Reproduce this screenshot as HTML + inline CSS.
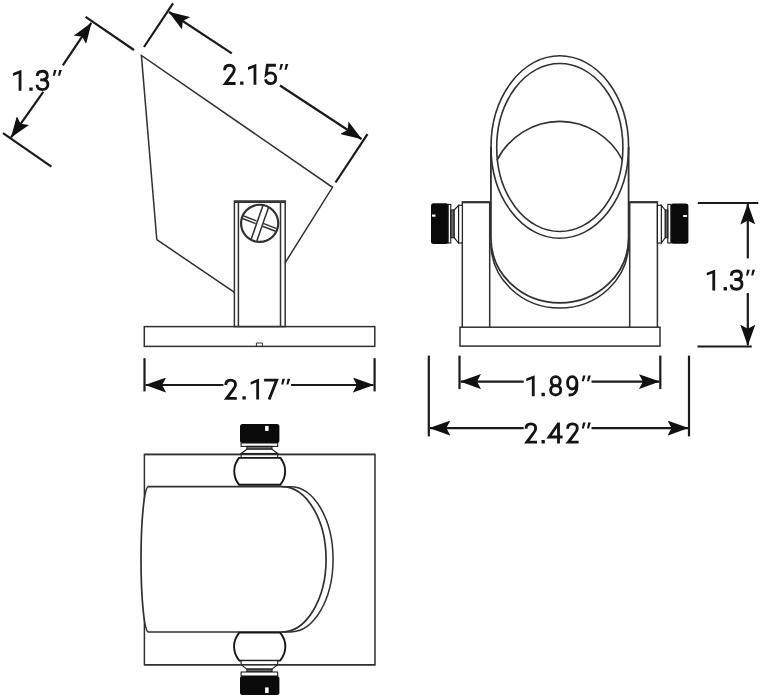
<!DOCTYPE html>
<html><head><meta charset="utf-8">
<style>
html,body{margin:0;padding:0;background:#fff;}
body{width:761px;height:700px;overflow:hidden;}
svg{display:block;will-change:transform;}
</style></head>
<body>
<svg width="761" height="700" viewBox="0 0 761 700">
<defs>
<marker id="ah" viewBox="0 0 21 15" refX="20.5" refY="7.5" markerWidth="21" markerHeight="15" markerUnits="userSpaceOnUse" orient="auto">
<path d="M0,0 L21,7.5 L0,15 L4,7.5 Z" fill="#111"/>
</marker>
</defs>
<rect width="761" height="700" fill="#fff"/>

<!-- ============ SIDE VIEW ============ -->
<g fill="none" stroke="#303030" stroke-width="1.5">
  <polyline points="156.8,239.7 141.4,55.4 332.5,187.3 285.1,262.8"/>
  <line x1="156.8" y1="239.7" x2="234.5" y2="292.3"/>
  <rect x="234.4" y="201" width="50.8" height="125.6"/>
  <line x1="238.4" y1="202" x2="238.4" y2="326.6"/>
  <line x1="280.5" y1="202" x2="280.5" y2="326.6"/>
  <line x1="234.4" y1="202.2" x2="285.2" y2="202.2" stroke-width="1.8"/>
  <circle cx="259.65" cy="223.35" r="18.6" stroke-width="2.2"/>
  <line x1="263.2" y1="204.8" x2="251.1" y2="239.4" stroke-width="1.5"/>
  <line x1="268.6" y1="207.3" x2="256.8" y2="240.9" stroke-width="1.5"/>
  <line x1="242.5" y1="215.5" x2="256.4" y2="220.9" stroke-width="1.5"/>
  <line x1="241.8" y1="218.3" x2="255.7" y2="223.6" stroke-width="1.5"/>
  <line x1="263.2" y1="223.4" x2="276.6" y2="228.6" stroke-width="1.5"/>
  <line x1="262.5" y1="226.2" x2="275.6" y2="231.2" stroke-width="1.5"/>
  <rect x="144.3" y="326.6" width="230.5" height="19.8"/>
  <path d="M256.4,346.4 V343 H262.4 V346.4" stroke-width="1"/>
</g>
<g stroke="#1a1a1a" stroke-width="2.2" fill="none">
  <line x1="85.6" y1="16.9" x2="134" y2="50"/>
  <line x1="3" y1="133.1" x2="51.4" y2="166.6"/>
  <line x1="62.8" y1="65.4" x2="91.3" y2="22.8" marker-end="url(#ah)"/>
  <line x1="43.3" y1="91.8" x2="11.1" y2="137.3" marker-end="url(#ah)"/>

  <line x1="173" y1="3.3" x2="144" y2="47"/>
  <line x1="367.5" y1="134.1" x2="335.5" y2="182.5"/>
  <line x1="231.8" y1="53.4" x2="169" y2="12" marker-end="url(#ah)"/>
  <line x1="280" y1="85.5" x2="361.5" y2="139" marker-end="url(#ah)"/>

  <line x1="144.5" y1="358.2" x2="144.5" y2="391.4"/>
  <line x1="374.6" y1="358.2" x2="374.6" y2="391.4"/>
  <line x1="223.4" y1="385" x2="145.6" y2="385" marker-end="url(#ah)"/>
  <line x1="291" y1="385" x2="373.4" y2="385" marker-end="url(#ah)"/>
</g>

<!-- ============ FRONT VIEW ============ -->
<g fill="none" stroke="#303030" stroke-width="1.5">
  <polyline points="462.3,326.9 462.3,202.1 489.7,202.1 489.7,326.9"/>
  <polyline points="629.7,326.9 629.7,202.1 657.4,202.1 657.4,326.9"/>
  <line x1="462.3" y1="202.3" x2="489.7" y2="202.3" stroke-width="2"/>
  <line x1="629.7" y1="202.3" x2="657.4" y2="202.3" stroke-width="2"/>
  <rect x="460" y="327.2" width="200" height="18.9"/>
  <path d="M490.9,147 L490.9,238 A68.85,65 0 0 0 628.6,238 L628.6,147" stroke-width="1.8"/>
  <path d="M490.9,243 A68.85,65 0 0 0 628.6,243"/>
  <ellipse cx="559.8" cy="147" rx="68.8" ry="91.3" stroke-width="1.6"/>
  <ellipse cx="559.8" cy="147.5" rx="63.1" ry="84" stroke-width="1.6"/>
  <path d="M496.9,160.3 A71.2,73.2 0 0 1 622.7,160.3" stroke-width="1.6"/>
</g>
<g>
  <rect x="431" y="203.3" width="17.4" height="40.6" rx="2.5" fill="#0a0a0a"/>
  <rect x="448.2" y="204.4" width="2.6" height="38.6" fill="#fff" stroke="#1a1a1a" stroke-width="1.1"/>
  <rect x="450.8" y="210" width="3.4" height="27.7" fill="#6a6a6a" stroke="#1a1a1a" stroke-width="1.1"/>
  <path d="M454.2,210 L458.6,205.3 L458.6,243 L454.2,237.7 Z" fill="#fff" stroke="#1a1a1a" stroke-width="1.1"/>
  <rect x="458.6" y="205.3" width="3.7" height="37.7" fill="#fff" stroke="#1a1a1a" stroke-width="1.1"/>
  <rect x="432" y="214.5" width="3.5" height="2.2" fill="#fff"/>

  <rect x="670.8" y="203.4" width="17.6" height="40.4" rx="2.5" fill="#0a0a0a"/>
  <rect x="667.8" y="204.4" width="3" height="38.6" fill="#fff" stroke="#1a1a1a" stroke-width="1.1"/>
  <rect x="665.1" y="210" width="2.7" height="27.7" fill="#6a6a6a" stroke="#1a1a1a" stroke-width="1.1"/>
  <path d="M665.1,210 L661.3,205.3 L661.3,243 L665.1,237.7 Z" fill="#fff" stroke="#1a1a1a" stroke-width="1.1"/>
  <rect x="657.4" y="205.3" width="3.9" height="37.7" fill="#fff" stroke="#1a1a1a" stroke-width="1.1"/>
  <rect x="682.8" y="214.9" width="4.4" height="2.1" rx="1" fill="#fff"/>
</g>
<g stroke="#1a1a1a" stroke-width="2.2" fill="none">
  <line x1="697.8" y1="203" x2="758.3" y2="203"/>
  <line x1="697.5" y1="346.5" x2="751.8" y2="346.5"/>
  <line x1="747.8" y1="258.4" x2="747.8" y2="204" marker-end="url(#ah)"/>
  <line x1="747.8" y1="293" x2="747.8" y2="345.2" marker-end="url(#ah)"/>

  <line x1="459.5" y1="355.6" x2="459.5" y2="389.1"/>
  <line x1="660.3" y1="355.6" x2="660.3" y2="389.1"/>
  <line x1="523.7" y1="381.6" x2="460.5" y2="381.6" marker-end="url(#ah)"/>
  <line x1="591.5" y1="381.6" x2="659.4" y2="381.6" marker-end="url(#ah)"/>

  <line x1="428.8" y1="355.6" x2="428.8" y2="436.4"/>
  <line x1="689" y1="355.6" x2="689" y2="436.4"/>
  <line x1="523.7" y1="428.1" x2="429.8" y2="428.1" marker-end="url(#ah)"/>
  <line x1="591.5" y1="428.1" x2="688.1" y2="428.1" marker-end="url(#ah)"/>
</g>

<!-- ============ TOP VIEW ============ -->
<g fill="none" stroke="#303030" stroke-width="1.5">
  <rect x="144.4" y="454.4" width="230.6" height="210.4"/>
  <path d="M148.5,486.7 L281.8,486.7 A44.3,72.65 0 0 1 281.8,632 L148.5,632 A7.5,72.65 0 0 1 148.5,486.7 Z" fill="#fff" stroke-width="1.7"/>
  <path d="M281.8,486.7 L290.5,486.7 A42.6,72.65 0 0 1 290.5,632 L281.8,632"/>
</g>
<g>
  <rect x="240" y="424.1" width="39.4" height="18.9" rx="2.5" fill="#0a0a0a"/>
  <rect x="265.1" y="425.9" width="3.5" height="5" fill="#fff"/>
  <rect x="241.1" y="443" width="36.6" height="3.4" fill="#fff" stroke="#1a1a1a" stroke-width="1.1"/>
  <rect x="246.9" y="446.4" width="25.1" height="2.9" fill="#6a6a6a" stroke="#1a1a1a" stroke-width="1.1"/>
  <path d="M246.9,449.3 L241.1,453.5 L277.7,453.5 L272,449.3 Z" fill="#fff" stroke="#1a1a1a" stroke-width="1.1"/>
  <rect x="241.1" y="453.5" width="36.6" height="4.4" fill="#fff" stroke="#1a1a1a" stroke-width="1.1"/>
  <path d="M239,457.9 L280.4,457.9 A25.4,23 0 0 1 280.4,484.7 L239,484.7 A25.4,23 0 0 1 239,457.9 Z" fill="#fff" stroke="#151515" stroke-width="1.9"/>

  <path d="M239.3,632.6 L280.1,632.6 A25.4,23 0 0 1 280.1,660.6 L239.3,660.6 A25.4,23 0 0 1 239.3,632.6 Z" fill="#fff" stroke="#151515" stroke-width="1.9"/>
  <rect x="241.1" y="660.6" width="36.6" height="4" fill="#fff" stroke="#1a1a1a" stroke-width="1.1"/>
  <path d="M241.1,664.6 L246.9,669.1 L272,669.1 L277.7,664.6 Z" fill="#fff" stroke="#1a1a1a" stroke-width="1.1"/>
  <rect x="246.9" y="669.1" width="25.1" height="2.9" fill="#6a6a6a" stroke="#1a1a1a" stroke-width="1.1"/>
  <rect x="241.1" y="672" width="36.6" height="4" fill="#fff" stroke="#1a1a1a" stroke-width="1.1"/>
  <rect x="240" y="676" width="39.4" height="18.9" rx="2.5" fill="#0a0a0a"/>
  <rect x="265.1" y="687.4" width="3.5" height="5.7" fill="#fff"/>
</g>
<line x1="144.4" y1="454.4" x2="375" y2="454.4" stroke="#303030" stroke-width="1.5"/>
<line x1="144.4" y1="664.7" x2="375" y2="664.7" stroke="#303030" stroke-width="1.5"/>
<g class="txt">
<path transform="translate(13.1,90.8)" d="M8.35,0 H5.55 V-17.1 L0,-14.9 V-17.7 L7.9,-20.8 H8.35 Z" fill="#141414"/>
<path transform="translate(29.3,90.8)" d="M0.4,-3.4 H3.0 Q3.4,-3.4 3.4,-3.0 V-0.4 Q3.4,0 3.0,0 H0.4 Q0,0 0,-0.4 V-3.0 Q0,-3.4 0.4,-3.4 Z" fill="#141414"/>
<path transform="translate(36,90.8)" d="M1.25,-14.8 C1.25,-17.9 3.5,-19.55 6.4,-19.55 C9.4,-19.55 11.3,-17.8 11.3,-15.2 C11.3,-12.6 9.3,-11 6.4,-11 H4.2 M6.4,-11 C9.8,-11 11.9,-9.2 11.9,-6.3 C11.9,-3.1 9.6,-1.25 6.4,-1.25 C3.2,-1.25 1.1,-3 1.1,-6" fill="none" stroke="#141414" stroke-width="2.85"/>
<path transform="translate(52.5,90.8)" d="M1.5,-20.8 H4.1 L2.3,-15.0 H0.3 Z M6.7,-20.8 H9.3 L7.5,-15.0 H5.5 Z" fill="#141414"/>
<path transform="translate(223.3,84.8)" d="M1.3,-14.6 C1.3,-18 3.5,-19.55 6.2,-19.55 C9.2,-19.55 11,-17.6 11,-15.2 C11,-13.3 10.3,-12 8.8,-10.3 L2.1,-1.3 H12.3" fill="none" stroke="#141414" stroke-width="2.85"/>
<path transform="translate(240.1,84.8)" d="M0.4,-3.4 H3.0 Q3.4,-3.4 3.4,-3.0 V-0.4 Q3.4,0 3.0,0 H0.4 Q0,0 0,-0.4 V-3.0 Q0,-3.4 0.4,-3.4 Z" fill="#141414"/>
<path transform="translate(248,84.8)" d="M8.35,0 H5.55 V-17.1 L0,-14.9 V-17.7 L7.9,-20.8 H8.35 Z" fill="#141414"/>
<path transform="translate(264.3,84.8)" d="M11.6,-19.55 H3.1 L2,-10.4 C3.1,-11.4 4.6,-12 6.3,-12 C9.4,-12 11.4,-9.7 11.4,-6.5 C11.4,-3.2 9.4,-1.25 6.3,-1.25 C3.6,-1.25 1.6,-2.8 1.25,-5.5" fill="none" stroke="#141414" stroke-width="2.85"/>
<path transform="translate(279,84.8)" d="M1.5,-20.8 H4.1 L2.3,-15.0 H0.3 Z M6.7,-20.8 H9.3 L7.5,-15.0 H5.5 Z" fill="#141414"/>
<path transform="translate(224.5,399.6)" d="M1.3,-14.6 C1.3,-18 3.5,-19.55 6.2,-19.55 C9.2,-19.55 11,-17.6 11,-15.2 C11,-13.3 10.3,-12 8.8,-10.3 L2.1,-1.3 H12.3" fill="none" stroke="#141414" stroke-width="2.85"/>
<path transform="translate(242.4,399.6)" d="M0.4,-3.4 H3.0 Q3.4,-3.4 3.4,-3.0 V-0.4 Q3.4,0 3.0,0 H0.4 Q0,0 0,-0.4 V-3.0 Q0,-3.4 0.4,-3.4 Z" fill="#141414"/>
<path transform="translate(250.7,399.6)" d="M8.35,0 H5.55 V-17.1 L0,-14.9 V-17.7 L7.9,-20.8 H8.35 Z" fill="#141414"/>
<path transform="translate(264.1,399.6)" d="M0,-19.55 H12.6 L5,0" fill="none" stroke="#141414" stroke-width="2.85"/>
<path transform="translate(280.9,399.6)" d="M1.5,-20.8 H4.1 L2.3,-15.0 H0.3 Z M6.7,-20.8 H9.3 L7.5,-15.0 H5.5 Z" fill="#141414"/>
<path transform="translate(706.8,290.5)" d="M8.35,0 H5.55 V-17.1 L0,-14.9 V-17.7 L7.9,-20.8 H8.35 Z" fill="#141414"/>
<path transform="translate(723.6,290.5)" d="M0.4,-3.4 H3.0 Q3.4,-3.4 3.4,-3.0 V-0.4 Q3.4,0 3.0,0 H0.4 Q0,0 0,-0.4 V-3.0 Q0,-3.4 0.4,-3.4 Z" fill="#141414"/>
<path transform="translate(730.1,290.5)" d="M1.25,-14.8 C1.25,-17.9 3.5,-19.55 6.4,-19.55 C9.4,-19.55 11.3,-17.8 11.3,-15.2 C11.3,-12.6 9.3,-11 6.4,-11 H4.2 M6.4,-11 C9.8,-11 11.9,-9.2 11.9,-6.3 C11.9,-3.1 9.6,-1.25 6.4,-1.25 C3.2,-1.25 1.1,-3 1.1,-6" fill="none" stroke="#141414" stroke-width="2.85"/>
<path transform="translate(745.7,290.5)" d="M1.5,-20.8 H4.1 L2.3,-15.0 H0.3 Z M6.7,-20.8 H9.3 L7.5,-15.0 H5.5 Z" fill="#141414"/>
<path transform="translate(526.3,396.2)" d="M8.35,0 H5.55 V-17.1 L0,-14.9 V-17.7 L7.9,-20.8 H8.35 Z" fill="#141414"/>
<path transform="translate(541.5,396.2)" d="M0.4,-3.4 H3.0 Q3.4,-3.4 3.4,-3.0 V-0.4 Q3.4,0 3.0,0 H0.4 Q0,0 0,-0.4 V-3.0 Q0,-3.4 0.4,-3.4 Z" fill="#141414"/>
<path transform="translate(549.4,396.2)" d="M6.3,-10.45 C3.8,-10.45 1.8,-12.5 1.8,-15 C1.8,-17.5 3.8,-19.55 6.3,-19.55 C8.8,-19.55 10.8,-17.5 10.8,-15 C10.8,-12.5 8.8,-10.45 6.3,-10.45 Z M6.3,-10.75 C3.5,-10.75 1.25,-8.6 1.25,-6 C1.25,-3.4 3.5,-1.25 6.3,-1.25 C9.1,-1.25 11.35,-3.4 11.35,-6 C11.35,-8.6 9.1,-10.75 6.3,-10.75 Z" fill="none" stroke="#141414" stroke-width="2.85"/>
<path transform="translate(566.3,396.2)" d="M5.9,-7.25 C3.3,-7.25 1.25,-10 1.25,-13.4 C1.25,-16.8 3.3,-19.55 5.9,-19.55 C8.5,-19.55 10.55,-16.8 10.55,-13.4 C10.55,-10 8.5,-7.25 5.9,-7.25 Z M10.55,-13.6 V-9.5 C10.55,-4 7.8,-1.25 3.3,-1.25 H2.3" fill="none" stroke="#141414" stroke-width="2.85"/>
<path transform="translate(581.5,396.2)" d="M1.5,-20.8 H4.1 L2.3,-15.0 H0.3 Z M6.7,-20.8 H9.3 L7.5,-15.0 H5.5 Z" fill="#141414"/>
<path transform="translate(524.7,443.4)" d="M1.3,-14.6 C1.3,-18 3.5,-19.55 6.2,-19.55 C9.2,-19.55 11,-17.6 11,-15.2 C11,-13.3 10.3,-12 8.8,-10.3 L2.1,-1.3 H12.3" fill="none" stroke="#141414" stroke-width="2.85"/>
<path transform="translate(541.5,443.4)" d="M0.4,-3.4 H3.0 Q3.4,-3.4 3.4,-3.0 V-0.4 Q3.4,0 3.0,0 H0.4 Q0,0 0,-0.4 V-3.0 Q0,-3.4 0.4,-3.4 Z" fill="#141414"/>
<path transform="translate(547.9,443.4)" d="M14.7,-6.4 H1.2 L10.4,-19.7 M10.6,-20.8 V0" fill="none" stroke="#141414" stroke-width="2.85"/>
<path transform="translate(566.3,443.4)" d="M1.3,-14.6 C1.3,-18 3.5,-19.55 6.2,-19.55 C9.2,-19.55 11,-17.6 11,-15.2 C11,-13.3 10.3,-12 8.8,-10.3 L2.1,-1.3 H12.3" fill="none" stroke="#141414" stroke-width="2.85"/>
<path transform="translate(581.5,443.4)" d="M1.5,-20.8 H4.1 L2.3,-15.0 H0.3 Z M6.7,-20.8 H9.3 L7.5,-15.0 H5.5 Z" fill="#141414"/>
</g>
</svg>
</body></html>
